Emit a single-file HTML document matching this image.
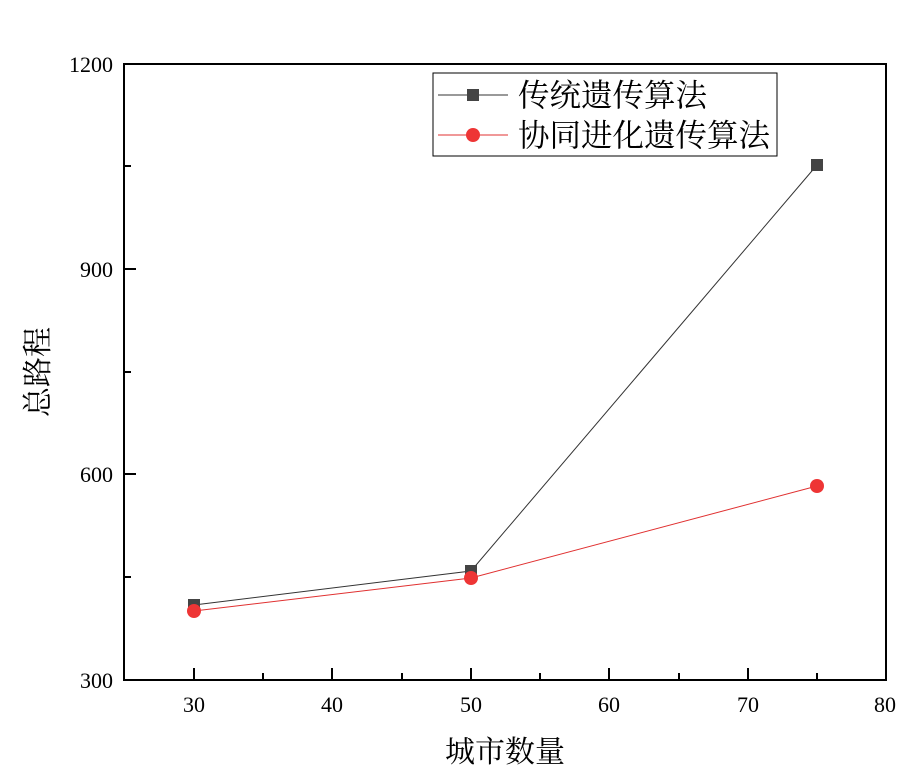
<!DOCTYPE html>
<html><head><meta charset="utf-8"><style>body{margin:0;background:#fff}</style></head><body>
<svg width="917" height="769" xmlns="http://www.w3.org/2000/svg" font-family="'Liberation Serif','Noto Serif CJK SC',serif">
<rect width="917" height="769" fill="#fff"/>
<rect x="124" y="64" width="762" height="616" fill="none" stroke="#000" stroke-width="2"/>
<g stroke="#000" stroke-width="2">
<line x1="194" y1="680" x2="194" y2="668"/><line x1="332" y1="680" x2="332" y2="668"/><line x1="471" y1="680" x2="471" y2="668"/><line x1="609" y1="680" x2="609" y2="668"/><line x1="748" y1="680" x2="748" y2="668"/>
<line x1="263" y1="680" x2="263" y2="673"/><line x1="402" y1="680" x2="402" y2="673"/><line x1="540" y1="680" x2="540" y2="673"/><line x1="679" y1="680" x2="679" y2="673"/><line x1="817" y1="680" x2="817" y2="673"/>
<line x1="124" y1="269" x2="136" y2="269"/><line x1="124" y1="474" x2="136" y2="474"/>
<line x1="124" y1="166" x2="131" y2="166"/><line x1="124" y1="372" x2="131" y2="372"/><line x1="124" y1="577" x2="131" y2="577"/>
</g>
<g font-size="22" text-anchor="middle" fill="#000">
<text x="194" y="712">30</text><text x="332" y="712">40</text><text x="471" y="712">50</text><text x="609" y="712">60</text><text x="748" y="712">70</text><text x="885" y="712">80</text>
</g>
<g font-size="22" text-anchor="end" fill="#000">
<text x="113" y="72">1200</text><text x="113" y="277">900</text><text x="113" y="482">600</text><text x="113" y="688">300</text>
</g>
<text x="505" y="762" font-size="30" text-anchor="middle">城市数量</text>
<text transform="translate(48,372) rotate(-90)" font-size="30" text-anchor="middle">总路程</text>
<polyline points="194,605 471,571 817,165" fill="none" stroke="#333" stroke-width="1"/>
<polyline points="194,611 471,578 817,486" fill="none" stroke="#e03030" stroke-width="1"/>
<g fill="#444"><rect x="188" y="599" width="12" height="12"/><rect x="465" y="565" width="12" height="12"/><rect x="811" y="159" width="12" height="12"/></g>
<g fill="#ee3535"><circle cx="194" cy="611" r="7"/><circle cx="471" cy="578" r="7"/><circle cx="817" cy="486" r="7"/></g>
<rect x="433" y="73" width="344" height="83" fill="#fff" stroke="#000" stroke-width="1"/>
<line x1="438" y1="95" x2="508" y2="95" stroke="#333"/><rect x="467" y="89" width="12" height="12" fill="#444"/>
<line x1="438" y1="135" x2="508" y2="135" stroke="#e03030"/><circle cx="473" cy="135" r="7" fill="#ee3535"/>
<text x="518" y="106" font-size="31.5">传统遗传算法</text>
<text x="518" y="146" font-size="31.5">协同进化遗传算法</text>
</svg>
</body></html>
